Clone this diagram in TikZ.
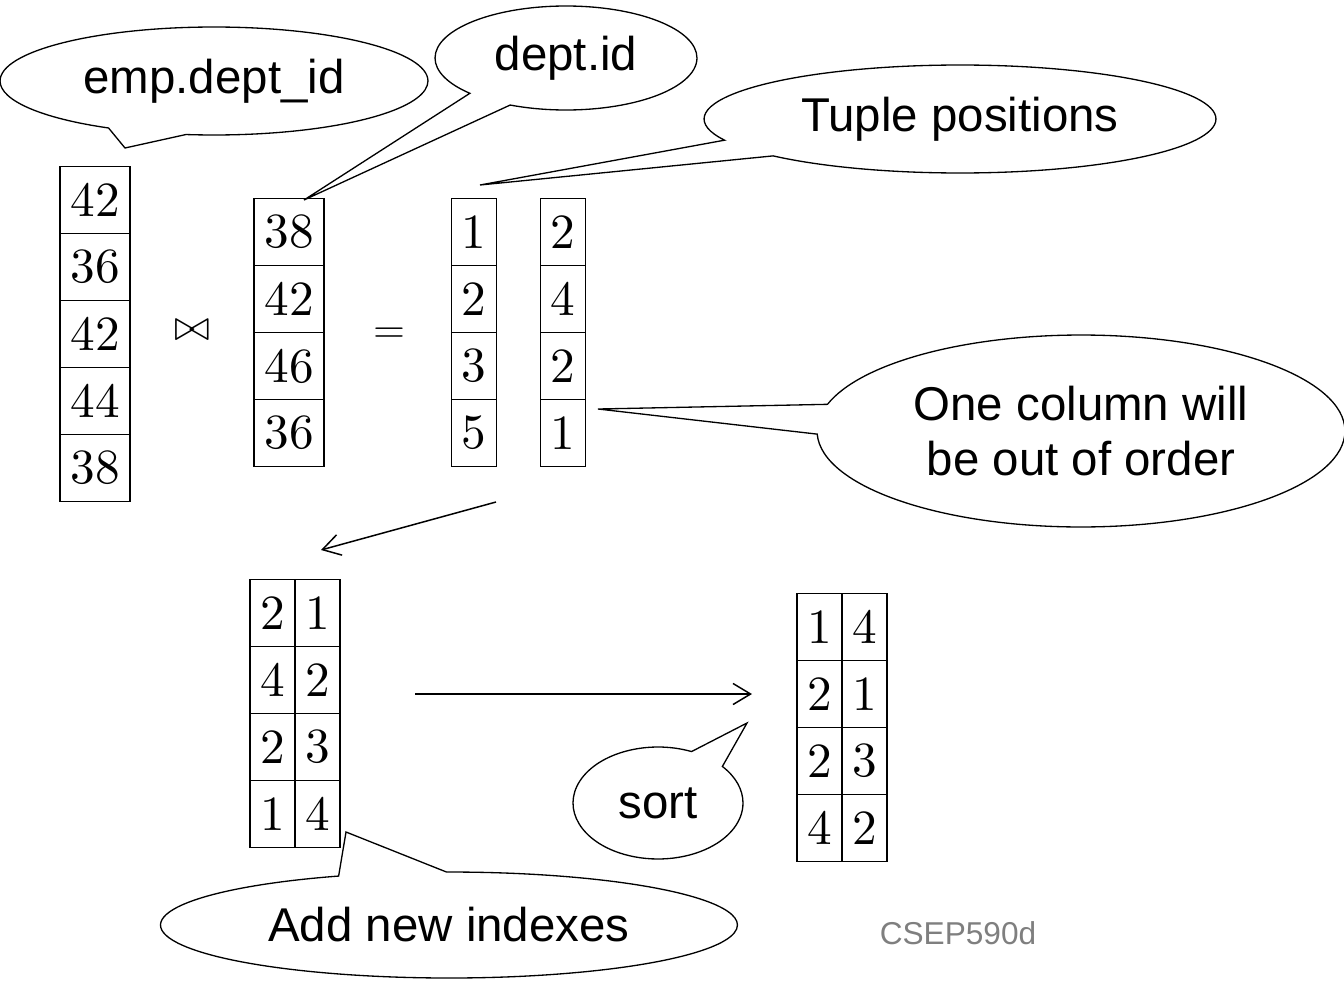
\documentclass[tikz,border=0pt]{standalone}
\usepackage{fontspec}
\usepackage{tikz}
\usetikzlibrary{shapes.callouts,arrows.meta}
\newfontfamily\bubblefont{Liberation Sans}
\newfontfamily\cellfont{lmroman10-regular.otf}
\definecolor{CSGray}{HTML}{7F7F7F}

\begin{document}
\begin{tikzpicture}[x=0.02cm,y=-0.02cm,
  cell/.style={draw,line width=.85pt,inner sep=0pt,minimum height=1.34cm,
    minimum width=0.9cm,font=\cellfont\fontsize{28}{30}\selectfont},
  wide/.style={minimum width=1.4cm},
  bubble/.style={ellipse callout,draw,line width=.75pt,fill=white,inner sep=0pt,
    align=center,font=\bubblefont\fontsize{27}{31}\selectfont},
  flow/.style={line width=.85pt,-{Straight Barb[length=10pt,width=12pt]}}]
\path[use as bounding box] (0,0) rectangle (1344,980);
% emp.dept_id and dept.id columns
\foreach \v [count=\i] in {42,36,42,44,38}
  \node[cell,wide] (emp\i) at (95,{200+67*(\i-1)}) {\v};
\node[font=\fontsize{25}{27}\selectfont] (join) at (192,330) {$\bowtie$};
\foreach \v [count=\i] in {38,42,46,36}
  \node[cell,wide] (dept\i) at (289,{232+67*(\i-1)}) {\v};
\node[font=\fontsize{28}{30}\selectfont] (eq) at (389,336) {$=$};
% tuple positions
\foreach \a/\b [count=\i] in {1/2,2/4,3/2,5/1} {
  \node[cell] (posl\i) at (474,{232+67*(\i-1)}) {\a};
  \node[cell] (posr\i) at (563,{232+67*(\i-1)}) {\b};
}
% with new indexes
\foreach \a/\b [count=\i] in {2/1,4/2,2/3,1/4} {
  \node[cell] (idxl\i) at (272.5,{613+67*(\i-1)}) {\a};
  \node[cell] (idxr\i) at (317.5,{613+67*(\i-1)}) {\b};
}
% sorted
\foreach \a/\b [count=\i] in {1/4,2/1,2/3,4/2} {
  \node[cell] (srtl\i) at (819.5,{627+67*(\i-1)}) {\a};
  \node[cell] (srtr\i) at (864.5,{627+67*(\i-1)}) {\b};
}
% arrows
\coordinate (splitfrom) at (496,502);
\coordinate (splitto) at (321,550);
\coordinate (sortfrom) at (415,694);
\coordinate (sortto) at (752,694);
\draw[flow] (splitfrom) -- (splitto);
\draw[flow] (sortfrom) -- (sortto);
% callouts
\coordinate (emptip) at (125,148);
\coordinate (depttip) at (304,200);
\coordinate (postip) at (480,185);
\coordinate (ordertip) at (598,409);
\coordinate (sorttip) at (747,723);
\coordinate (idxtip) at (346,832);
\node[bubble,minimum width=8.56cm,minimum height=2.16cm,callout pointer arc=22,
  callout absolute pointer=(emptip)] (empnote) at (214,81) {emp.dept\_id};
\node[bubble,minimum width=5.24cm,minimum height=2.08cm,callout pointer arc=22,
  callout absolute pointer=(depttip)] (deptnote) at (566,58) {dept.id};
\node[bubble,minimum width=10.24cm,minimum height=2.16cm,callout pointer arc=20,
  callout absolute pointer=(postip)] (posnote) at (960,119) {Tuple positions};
\node[bubble,minimum width=10.56cm,minimum height=3.84cm,callout pointer arc=18,
  callout absolute pointer=(ordertip)] (ordernote) at (1081,431)
  {One column will\\be out of order};
\node[bubble,minimum width=3.4cm,minimum height=2.24cm,callout pointer arc=26,
  callout absolute pointer=(sorttip)] (sortnote) at (658,803) {sort};
\node[bubble,minimum width=11.54cm,minimum height=2.12cm,callout pointer arc=22,
  callout absolute pointer=(idxtip)] (idxnote) at (449,925) {Add new indexes};
\node[font=\bubblefont\fontsize{18}{20}\selectfont,text=CSGray] (course) at (958,933) {CSEP590d};
\end{tikzpicture}
\end{document}
